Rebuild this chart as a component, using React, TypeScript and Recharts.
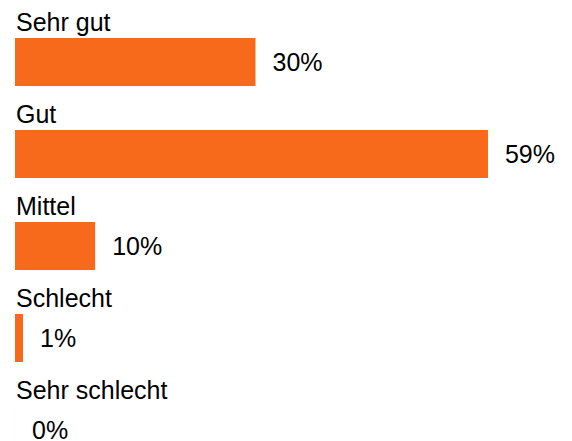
import { BarChart, Bar, XAxis, YAxis, LabelList } from 'recharts'

const categories = ['Sehr gut', 'Gut', 'Mittel', 'Schlecht', 'Sehr schlecht']
const shares = [30, 59, 10, 1, 0]

const data = categories.map((name, i) => ({ name, value: shares[i] }))

const FONT = '"Liberation Sans", Arial, sans-serif'

function CategoryLabel(props: any) {
  const { x, y, value } = props
  return (
    <text x={Number(x) + 1} y={Number(y) - 7} fill="#000" fontSize={25} fontFamily={FONT}>
      {value}
    </text>
  )
}

function ValueLabel(props: any) {
  const { x, y, width, height, value } = props
  return (
    <text
      x={Number(x) + Number(width) + 17}
      y={Number(y) + Number(height) / 2}
      dominantBaseline="central"
      fill="#000"
      fontSize={25}
      fontFamily={FONT}
    >
      {`${value}%`}
    </text>
  )
}

export default function App() {
  return (
    <div style={{ position: 'absolute', left: 0, top: 0, width: 572, height: 441, overflow: 'hidden', background: '#fff' }}>
      <BarChart
        width={572}
        height={480}
        data={data}
        layout="vertical"
        margin={{ top: 16, right: 76, left: 15, bottom: 4 }}
      >
        <XAxis type="number" domain={[0, 60]} hide />
        <YAxis type="category" dataKey="name" hide />
        <Bar dataKey="value" fill="#f76a1b" barSize={48} minPointSize={0.01} isAnimationActive={false}>
          <LabelList dataKey="name" content={<CategoryLabel />} />
          <LabelList dataKey="value" content={<ValueLabel />} />
        </Bar>
      </BarChart>
    </div>
  )
}
